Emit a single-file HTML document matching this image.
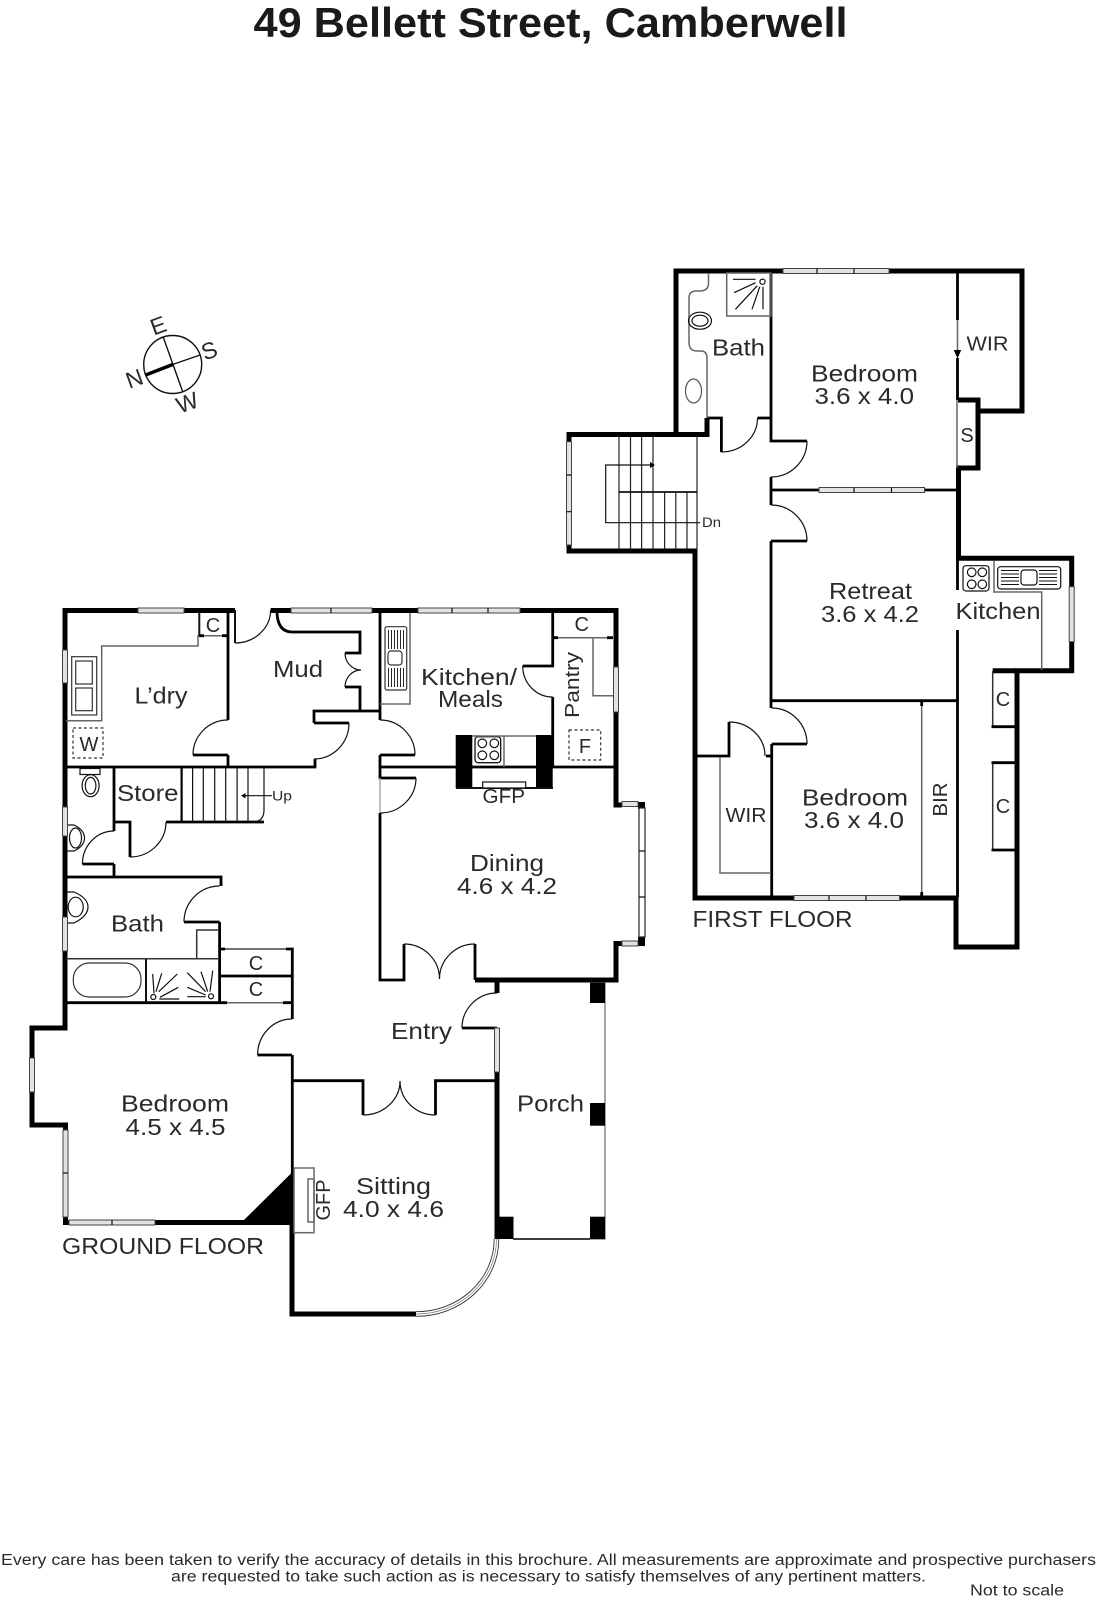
<!DOCTYPE html>
<html lang="en">
<head>
<meta charset="utf-8">
<title>49 Bellett Street, Camberwell</title>
<style>
html,body{margin:0;padding:0;background:#fff}
svg{display:block}
.w{fill:none;stroke:#000;stroke-width:5;stroke-linejoin:miter}
.t{fill:none;stroke:#000;stroke-width:2.8}
.h{fill:none;stroke:#111;stroke-width:2}
.g{fill:none;stroke:#666;stroke-width:1.5}
.a{fill:none;stroke:#111;stroke-width:1.2}
.d{fill:none;stroke:#333;stroke-width:1.2;stroke-dasharray:3 2.5}
.win{fill:#e2e2e2;stroke:#444;stroke-width:1}
.b{fill:#000;stroke:none}
text{font-family:"Liberation Sans",sans-serif;fill:#2a2a2a;font-size:23px}
.s{font-size:20px}
.u{font-size:14px}
.f{font-size:15.5px}
</style>
</head>
<body>
<svg xmlns="http://www.w3.org/2000/svg" width="1097" height="1600" viewBox="0 0 1097 1600">
<rect width="1097" height="1600" fill="#fff"/>

<!-- title -->
<text x="253.5" y="37" font-weight="bold" style="font-size:42px;fill:#1a1a1a" textLength="594" lengthAdjust="spacingAndGlyphs">49 Bellett Street, Camberwell</text>

<!-- compass -->
<circle cx="172.7" cy="364.5" r="29" class="a" style="stroke-width:1.4"/>
<path d="M163.3 337.3L182.7 391.7" class="a" style="stroke-width:1.4"/>
<path d="M172.7 364.5L200 355" class="a" style="stroke-width:1.4"/>
<path d="M145.7 375L172.7 364.5" fill="none" stroke="#000" stroke-width="3.4"/>
<text text-anchor="middle" transform="translate(161 333) rotate(-20)">E</text>
<text text-anchor="middle" transform="translate(212 358) rotate(-20)">S</text>
<text text-anchor="middle" transform="translate(190 410) rotate(-20)">W</text>
<text text-anchor="middle" transform="translate(137 386) rotate(-20)">N</text>

<!-- ============ GROUND FLOOR ============ -->
<!-- outer walls -->
<path class="w" d="M235 610.5H65V1028H32V1125H65.5V1222.5H292"/>
<path class="w" d="M270.6 610.5H616V805H622"/>
<path class="w" d="M622 943.5H616V980H475"/>
<path class="w" d="M292 1222V1314H416"/>
<path class="w" d="M497 981V993M497 1072V1239"/>
<!-- bay of dining -->
<rect x="638" y="802" class="b" width="7" height="7"/>
<rect x="638" y="937" class="b" width="7" height="9"/>
<!-- triangle -->
<polygon class="b" points="292.5,1172 244,1220 244,1225 292.5,1225"/>
<!-- laundry / mud walls -->
<path class="t" d="M228 613V720M228 755V767M65 767H315V759M314 723V711H380M380 613V720M380 755V767H616"/>
<path class="t" d="M193 755H228"/>
<path class="h" d="M235 610V643"/>
<path class="t" d="M277 613Q278 632 292 632H360V653H345M345 687H360V711"/>
<path class="a" d="M345 653A16 17 0 0 0 361 670A16 17 0 0 0 345 687"/>
<path class="t" d="M314 723H349M380 755H415M380 767V778H416"/>
<path class="g" d="M380 778V813" style="stroke:#aaa"/>
<path class="t" d="M380 813V980H404V944M475 980V944"/>
<!-- kitchen -->
<path class="t" d="M552.7 613V666H522.7M552.7 697V767"/>
<path class="g" d="M410 613V704H380"/>
<rect x="385" y="626.7" width="21.7" height="63.3" rx="2" class="g" style="stroke:#333;stroke-width:1.2"/>
<rect x="388" y="651" width="14" height="14" rx="3" class="g" style="stroke:#333;stroke-width:1.2"/>
<path class="a" d="M388.5 630V649M391.5 630V649M394.5 630V649M397.5 630V649M400.5 630V649M403.5 630V649M388.5 668V687M391.5 668V687M394.5 668V687M397.5 668V687M400.5 668V687M403.5 668V687" style="stroke-width:.9"/>
<rect x="455.7" y="735" width="16.6" height="53.3" class="b"/>
<rect x="536" y="735" width="16.7" height="53.3" class="b"/>
<path class="h" d="M456 788H553"/>
<rect x="482.7" y="782" width="43" height="6" class="a" style="fill:#fff"/>
<rect x="475" y="736.7" width="25.7" height="26" rx="3" class="a" style="stroke-width:1.3"/>
<circle cx="482.3" cy="743.3" r="4.3" class="a"/><circle cx="494.3" cy="743.3" r="4.3" class="a"/><circle cx="482.3" cy="755.3" r="4.3" class="a"/><circle cx="494.3" cy="755.3" r="4.3" class="a"/>
<path class="g" d="M472 736H536M504 736V767"/>
<!-- pantry -->
<path class="g" d="M552.7 637.7H613M593 638V695.7H613"/>
<path class="t" d="M552.7 637.7H558M607 637.7H613"/>
<rect x="569" y="730" width="31.7" height="30" class="d"/>
<!-- laundry bench -->
<path class="g" d="M198 635V646H101.7V720.7H66"/>
<rect x="71.7" y="656.7" width="25" height="58.3" class="g" style="stroke-width:1.2;stroke:#333"/>
<rect x="75.7" y="661" width="16.6" height="23" class="g" style="stroke-width:1.2;stroke:#333"/>
<rect x="75.7" y="688" width="16.6" height="22.7" class="g" style="stroke-width:1.2;stroke:#333"/>
<path class="h" d="M199.3 613V636"/>
<path class="g" d="M199 635.7H228"/>
<path class="t" d="M199 635.7H204M222 635.7H228"/>
<rect x="73" y="728" width="30" height="30" class="d"/>
<!-- WC / store / stairs -->
<rect x="80" y="768.5" width="20" height="6" class="a"/>
<ellipse cx="90.6" cy="785.7" rx="8.5" ry="11" class="a"/>
<ellipse cx="90.6" cy="785.7" rx="5.3" ry="8.3" class="a"/>
<path class="a" d="M67 825H74Q84.5 830 84.5 838Q84.5 846 74 851H67"/>
<ellipse cx="75.5" cy="838" rx="6" ry="10" class="a"/>
<path class="t" d="M114 767V831M114 822H130V857M166 822H264M114 864H82.4M114 864V877M65 877H221V886M219.6 922H184M219.6 922V1003"/>
<path class="t" d="M181.6 767V822" style="stroke-width:2.2"/>
<path class="a" d="M192.6 767V822M203.3 767V822M214.7 767V822M225.7 767V822M237.1 767V822M248 767V822M264 767V810Q264 822 252 822"/>
<path class="a" d="M242 795.7H272"/>
<polygon class="b" points="241,795.7 245.5,793 245.5,798.4"/>
<!-- bath -->
<path class="a" d="M67 892H74Q88 898 88 907Q88 916 74 923H67"/>
<ellipse cx="75.7" cy="907" rx="7.5" ry="9.8" class="a"/>
<path class="g" d="M66 958.7H219M196.7 958V930H218" style="stroke:#333"/>
<path class="h" d="M146 959V1003"/>
<rect x="73.3" y="963" width="67.7" height="34" rx="16" class="a" style="stroke:#333"/>
<circle cx="153.3" cy="997" r="2.5" class="a"/>
<path class="a" d="M154 993.3L152.7 974M156 991.7L161.7 973.3M158.7 991.7L177.3 974M160 997.3L178.3 987.3M159.3 999H179.3"/>
<circle cx="211" cy="996.3" r="2.5" class="a"/>
<path class="a" d="M210 991.7L212.7 970.7M207.7 991.7L201 971.7M205.7 991.7L187.3 972.7M205.7 995L187.3 987.3M205.7 996.7H187.3"/>
<!-- closets -->
<path class="g" d="M219 949H292" style="stroke:#444"/>
<path class="t" d="M219 949H225M286 949H292.3V1019M219 976H292"/>
<path class="t" d="M65 1002.7H227M283 1002.7H292"/>
<path class="g" d="M227 1002.7H283"/>
<!-- bedroom & sitting -->
<path class="t" d="M292 1055H257.6M292.3 1055V1222M292 1080.7H363V1115M435.5 1115V1080.7H497"/>
<path class="t" d="M462 1028H497"/>
<rect x="294" y="1168" width="20" height="64.7" class="g"/>
<rect x="308" y="1179" width="6" height="43" class="g"/>
<!-- porch -->
<path class="g" d="M605 983V1239H513" style="stroke:#888"/>
<path class="a" d="M513 1239H590" style="stroke-width:1.5"/>
<rect x="590" y="982.7" width="15" height="20.3" class="b"/>
<rect x="590" y="1103" width="15" height="22.7" class="b"/>
<rect x="590" y="1216.7" width="15" height="22.3" class="b"/>
<rect x="497" y="1216.7" width="16.5" height="22.3" class="b"/>
<!-- door arcs -->
<path class="a" d="M228 720A35 35 0 0 0 193 755M235 643A35.6 33 0 0 0 270.6 610M314 759A35 36 0 0 0 349 723M380 720A35 35 0 0 1 415 755M416 778A36 35 0 0 1 380 813M522.7 666A30 31 0 0 0 552.7 697M130 857A36 35 0 0 0 166 822M114 831A31.6 33 0 0 0 82.4 864M219.6 886A35.6 36 0 0 0 184 922M404 944A35.5 35 0 0 1 439.5 979M475 944A35.5 35 0 0 0 439.5 979M497 993A35 35 0 0 0 462 1028M292 1019A34.4 36 0 0 0 257.6 1055M363 1115A37 34 0 0 0 400 1081M435.5 1115A35.5 34 0 0 1 400 1081"/>
<!-- curved bay window -->
<path d="M416 1314A80 75 0 0 0 496.5 1239" fill="none" stroke="#333" stroke-width="5.5"/>
<path d="M416 1314A80 75 0 0 0 496.5 1239" fill="none" stroke="#fff" stroke-width="3.7"/>
<path d="M416 1314A80 75 0 0 0 496.5 1239" fill="none" stroke="#777" stroke-width=".7"/>
<!-- ground floor windows -->
<rect class="win" x="138" y="608" width="46" height="5"/>
<rect class="win" x="291" y="608" width="81" height="5"/><path class="a" d="M331 608V613"/>
<rect class="win" x="418" y="608" width="102" height="5"/><path class="a" d="M452 608V613M488 608V613"/>
<rect class="win" x="62.5" y="650" width="5" height="33"/>
<rect class="win" x="62.5" y="807" width="5" height="29"/>
<rect class="win" x="62.5" y="917" width="5" height="34"/>
<rect class="win" x="29.5" y="1058" width="5" height="34"/>
<rect class="win" x="63" y="1130" width="5" height="87"/><path class="a" d="M63 1173H68"/>
<rect class="win" x="69" y="1220" width="86" height="5"/><path class="a" d="M112 1220V1225"/>
<rect class="win" x="613.5" y="667" width="5" height="45"/>
<rect class="win" x="622" y="801.5" width="16" height="5"/>
<rect class="win" x="622" y="941" width="16" height="5"/>
<rect x="639" y="808" width="6" height="129" style="fill:#fff;stroke:#222;stroke-width:1.2"/>
<path class="a" d="M639 851H645M639 897H645"/>
<rect class="win" x="494.5" y="1028" width="5" height="44"/>

<!-- ============ FIRST FLOOR ============ -->
<path class="w" d="M676 436.5V271H1022V411H978V400H958"/>
<path class="w" d="M978 411V468H958.5V558.3H1071.7V670.7H1017V947H956V898H695V551H569V434.5H707V418"/>
<path class="w" d="M992.7 670.7H1017"/>
<path class="t" d="M707 418H721.4V452M757.5 418H771M771 271V441H807M771 477V505M771 490H958M771 541H807M771 541V708M771.7 744H807M771.7 744V898M771 700.7H958M695 756H729V722M766 756H771.7"/>
<path class="t" d="M957.5 271V320M957.5 358V400M957.5 558V590M957.5 630V897"/>
<path class="g" d="M957.5 320V350M957 400V468"/>
<polygon class="b" points="953.8,350 961.2,350 957.5,358.5"/>
<path class="a" d="M757.5 418A36 34 0 0 1 721.4 452M807 441A36 36 0 0 1 771 477M771 505A36 36 0 0 1 807 541M771.7 708A35.3 36 0 0 1 807 744M729 722A36 34 0 0 1 765 756"/>
<path class="g" d="M708.5 273V283Q708.5 291 700 291H696Q689 291 689 298V342Q689 351 697 351H701Q707 351 707 358V418"/>
<rect x="726.7" y="273" width="44.3" height="43" class="g"/>
<circle cx="762.5" cy="281.7" r="2.6" class="a"/>
<path class="a" d="M755.6 279.3H733M755.6 282.7L734 292.7M757.3 285.7L735.4 309.3M759.8 286.7L752 309.3M763 286.7V309.3"/>
<ellipse cx="700" cy="320.7" rx="11.5" ry="8.5" class="a"/>
<ellipse cx="700" cy="320.7" rx="8" ry="5.5" class="a"/>
<ellipse cx="693.5" cy="391" rx="8" ry="12" class="a" style="stroke:#555"/>
<!-- stairs -->
<path class="a" d="M619 437V549M630.5 437V549M641.6 437V549M653 437V549M664.6 492V549M675.8 492V549M687 492V549M697 437V551" style="stroke:#222"/>
<path class="a" d="M619 492H697" style="stroke-width:1.8"/>
<path class="a" d="M652.8 465H605.7V522.7H700"/>
<polygon class="b" points="655,465 650,462 650,468"/>
<!-- WIR / BIR -->
<path class="g" d="M720 757V873H771"/>
<path class="g" d="M921.7 702V897"/>
<path class="t" d="M921.7 702V706M921.7 892V897"/>
<!-- kitchen ff -->
<rect x="963" y="565.7" width="26" height="25.3" rx="3" class="a"/>
<circle cx="971.7" cy="572.3" r="4.3" class="a"/><circle cx="982.3" cy="572.3" r="4.3" class="a"/><circle cx="971.7" cy="584.3" r="4.3" class="a"/><circle cx="982.3" cy="584.3" r="4.3" class="a"/>
<path class="g" d="M994 561V592H1041.7V670"/>
<rect x="997.7" y="566.7" width="63" height="22.3" rx="3" class="a"/>
<rect x="1021" y="570" width="16" height="15" rx="3" class="a"/>
<path class="a" d="M1001 570.5H1019M1001 574H1019M1001 577.5H1019M1001 581H1019M1001 584.5H1019M1039 570.5H1057M1039 574H1057M1039 577.5H1057M1039 581H1057M1039 584.5H1057" style="stroke-width:.9"/>
<path class="g" d="M992.7 671V726M992.7 763V850" style="stroke:#333"/>
<path class="t" d="M991.5 726.7H1017M991.5 762.7H1017M991.5 850H1017"/>
<!-- first floor windows -->
<rect class="win" x="783" y="268.5" width="106" height="5"/><path class="a" d="M817 268.5V273.5M854 268.5V273.5"/>
<rect class="win" x="819" y="487.5" width="105.5" height="5"/><path class="a" d="M854 487.5V492.5M891.5 487.5V492.5"/>
<rect class="win" x="566.5" y="441.7" width="5" height="103.3"/><path class="a" d="M566.5 475H571.5M566.5 511.7H571.5"/>
<rect class="win" x="794" y="895.5" width="105.5" height="5"/><path class="a" d="M829 895.5V900.5M866 895.5V900.5"/>
<rect class="win" x="1069.2" y="586.7" width="5" height="55"/>

<!-- ============ LABELS ============ -->
<text x="273" y="677" textLength="50" lengthAdjust="spacingAndGlyphs">Mud</text>
<text x="134.5" y="703.5" textLength="53" lengthAdjust="spacingAndGlyphs">L’dry</text>
<text x="421" y="685" textLength="96" lengthAdjust="spacingAndGlyphs">Kitchen/</text>
<text x="438" y="707" textLength="65" lengthAdjust="spacingAndGlyphs">Meals</text>
<text x="117" y="801" textLength="61.5" lengthAdjust="spacingAndGlyphs">Store</text>
<text x="111" y="931.5" textLength="53" lengthAdjust="spacingAndGlyphs">Bath</text>
<text x="470" y="871" textLength="74" lengthAdjust="spacingAndGlyphs">Dining</text>
<text x="457" y="894" textLength="100" lengthAdjust="spacingAndGlyphs">4.6 x 4.2</text>
<text class="s" x="482.5" y="803" textLength="42.5" lengthAdjust="spacingAndGlyphs">GFP</text>
<text class="s" transform="translate(579 718) rotate(-90)" textLength="66" lengthAdjust="spacingAndGlyphs">Pantry</text>
<text class="s" x="581.7" y="631" text-anchor="middle">C</text>
<text class="s" x="585" y="753" text-anchor="middle">F</text>
<text class="u" x="272" y="800.7" textLength="20" lengthAdjust="spacingAndGlyphs">Up</text>
<text class="s" x="89" y="751" text-anchor="middle">W</text>
<text class="s" x="213" y="632" text-anchor="middle">C</text>
<text class="s" x="256" y="970" text-anchor="middle">C</text>
<text class="s" x="256" y="996" text-anchor="middle">C</text>
<text x="391" y="1039" textLength="61" lengthAdjust="spacingAndGlyphs">Entry</text>
<text x="517" y="1111.5" textLength="67" lengthAdjust="spacingAndGlyphs">Porch</text>
<text x="121" y="1111.5" textLength="108" lengthAdjust="spacingAndGlyphs">Bedroom</text>
<text x="125.5" y="1135" textLength="100" lengthAdjust="spacingAndGlyphs">4.5 x 4.5</text>
<text x="356" y="1194" textLength="75" lengthAdjust="spacingAndGlyphs">Sitting</text>
<text x="343" y="1217" textLength="101" lengthAdjust="spacingAndGlyphs">4.0 x 4.6</text>
<text class="s" transform="translate(330 1220.5) rotate(-90)" textLength="41" lengthAdjust="spacingAndGlyphs">GFP</text>
<text x="62" y="1254" textLength="202" lengthAdjust="spacingAndGlyphs">GROUND FLOOR</text>

<text x="712" y="355.7" textLength="53" lengthAdjust="spacingAndGlyphs">Bath</text>
<text class="s" x="966.5" y="350.7" textLength="42" lengthAdjust="spacingAndGlyphs">WIR</text>
<text x="811" y="381.7" textLength="107" lengthAdjust="spacingAndGlyphs">Bedroom</text>
<text x="814.5" y="404" textLength="99.5" lengthAdjust="spacingAndGlyphs">3.6 x 4.0</text>
<text class="s" x="967" y="442" text-anchor="middle">S</text>
<text class="u" x="702" y="527" textLength="19" lengthAdjust="spacingAndGlyphs">Dn</text>
<text x="829" y="599" textLength="83" lengthAdjust="spacingAndGlyphs">Retreat</text>
<text x="821" y="622" textLength="98" lengthAdjust="spacingAndGlyphs">3.6 x 4.2</text>
<rect x="955" y="592" width="6" height="36" fill="#fff"/>
<text x="955.5" y="619" textLength="85" lengthAdjust="spacingAndGlyphs">Kitchen</text>
<text class="s" x="1003" y="706" text-anchor="middle">C</text>
<text class="s" x="1003" y="813" text-anchor="middle">C</text>
<text x="802" y="805.5" textLength="106" lengthAdjust="spacingAndGlyphs">Bedroom</text>
<text x="804" y="828" textLength="100" lengthAdjust="spacingAndGlyphs">3.6 x 4.0</text>
<text class="s" transform="translate(947 816.5) rotate(-90)" textLength="34" lengthAdjust="spacingAndGlyphs">BIR</text>
<text class="s" x="725.5" y="822" textLength="41" lengthAdjust="spacingAndGlyphs">WIR</text>
<text x="692.5" y="927" textLength="160" lengthAdjust="spacingAndGlyphs">FIRST FLOOR</text>

<!-- footer -->
<text class="f" x="1" y="1565" textLength="1095" lengthAdjust="spacingAndGlyphs">Every care has been taken to verify the accuracy of details in this brochure.  All measurements are approximate and prospective purchasers</text>
<text class="f" x="171" y="1581.5" textLength="755" lengthAdjust="spacingAndGlyphs">are requested to take such action as is necessary to satisfy themselves of any pertinent matters.</text>
<text class="f" x="970" y="1595.5" textLength="94" lengthAdjust="spacingAndGlyphs">Not to scale</text>
</svg>
</body>
</html>
